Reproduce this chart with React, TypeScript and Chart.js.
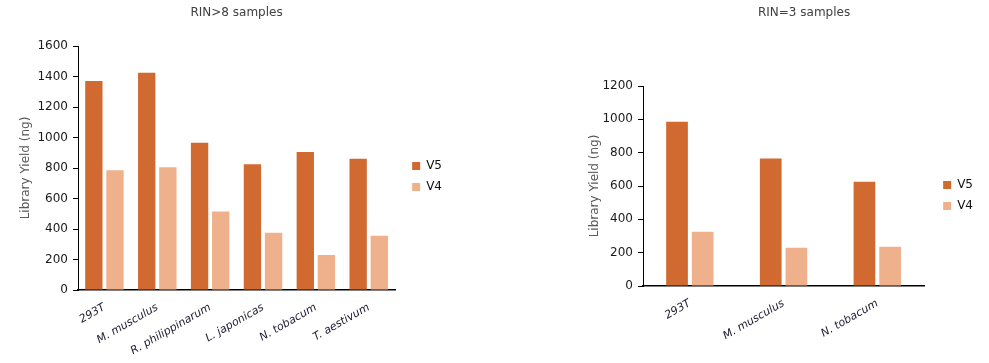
import React, { useEffect, useRef } from "react";
import { Chart, registerables } from "chart.js";

Chart.register(...registerables);

const FONT = "'DejaVu Sans', sans-serif";
const V5_COLOR = "#D06A30";
const V4_COLOR = "#EFB08C";

const seriesNames = ["V5", "V4"];

const categoriesRin8 = ["293T", "M. musculus", "R. philippinarum", "L. japonicas", "N. tobacum", "T. aestivum"];
const v5Rin8 = [1370, 1425, 965, 825, 905, 860];
const v4Rin8 = [785, 805, 515, 375, 230, 355];

const categoriesRin3 = ["293T", "M. musculus", "N. tobacum"];
const v5Rin3 = [985, 765, 625];
const v4Rin3 = [325, 230, 235];

type PanelCfg = {
  title: string;
  labels: string[];
  v5: number[];
  v4: number[];
  yMax: number;
  width: number;
  left: number;
  yAxisWidth: number;
  xAxisHeight: number;
  titleBottom: number;
  padRight: number;
  catPct: number;
  barPct: number;
  yTitlePad: number;
  titleDx: number;
  legendDx: number;
  legendDy: number;
};

function makeShift(titleDx: number, legendDx: number, legendDy: number) {
  return {
    id: "shiftBoxes",
    afterLayout(chart: any) {
      const t = chart.titleBlock;
      if (t) {
        t.left += titleDx;
        t.right += titleDx;
      }
      const l = chart.legend;
      if (l) {
        l.left += legendDx;
        l.right += legendDx;
        l.top += legendDy;
        l.bottom += legendDy;
      }
    },
  };
}

function Panel({ cfg }: { cfg: PanelCfg }) {
  const ref = useRef<HTMLCanvasElement | null>(null);
  useEffect(() => {
    if (!ref.current) return;
    const chart = new Chart(ref.current, {
      type: "bar",
      data: {
        labels: cfg.labels,
        datasets: [
          {
            label: seriesNames[0],
            data: cfg.v5,
            backgroundColor: V5_COLOR,
            categoryPercentage: cfg.catPct,
            barPercentage: cfg.barPct,
          },
          {
            label: seriesNames[1],
            data: cfg.v4,
            backgroundColor: V4_COLOR,
            categoryPercentage: cfg.catPct,
            barPercentage: cfg.barPct,
          },
        ],
      },
      plugins: [makeShift(cfg.titleDx, cfg.legendDx, cfg.legendDy)],
      options: {
        animation: false,
        responsive: false,
        maintainAspectRatio: false,
        layout: { padding: { left: 0, top: 0, bottom: 0, right: cfg.padRight } },
        plugins: {
          title: {
            display: true,
            text: cfg.title,
            fullSize: false,
            color: "#404040",
            font: { family: FONT, size: 12, weight: "normal" },
            padding: { top: 6, bottom: cfg.titleBottom },
          },
          legend: {
            display: true,
            position: "right",
            labels: {
              boxWidth: 8,
              boxHeight: 8,
              padding: 9,
              color: "#111111",
              font: { family: FONT, size: 12 },
            },
          },
          tooltip: { enabled: false },
        },
        scales: {
          x: {
            grid: { display: false },
            border: { display: true, color: "#000000", width: 1.5 },
            ticks: {
              autoSkip: false,
              minRotation: 30,
              maxRotation: 30,
              padding: 3,
              color: "#1c1c30",
              font: { family: FONT, size: 11, style: "italic" },
            },
            afterFit: (s: any) => {
              s.height = cfg.xAxisHeight;
            },
          },
          y: {
            min: 0,
            max: cfg.yMax,
            ticks: {
              stepSize: 200,
              padding: 5,
              color: "#1a1a1a",
              font: { family: FONT, size: 12 },
              callback: (v: any) => String(v),
            },
            grid: {
              display: true,
              drawOnChartArea: false,
              drawTicks: true,
              tickLength: 5,
              tickColor: "#000000",
              tickWidth: 1,
            },
            border: { display: true, color: "#000000", width: 1 },
            title: {
              display: true,
              text: "Library Yield (ng)",
              color: "#595959",
              font: { family: FONT, size: 12 },
              padding: { top: cfg.yTitlePad, bottom: 0 },
            },
            afterFit: (s: any) => {
              s.width = cfg.yAxisWidth;
            },
          },
        },
      } as any,
    });
    return () => chart.destroy();
  }, [cfg]);
  return (
    <canvas
      ref={ref}
      width={cfg.width}
      height={363}
      style={{ position: "absolute", left: cfg.left, top: 0, width: cfg.width, height: 363 }}
    />
  );
}

const leftCfg: PanelCfg = {
  title: "RIN>8 samples",
  labels: categoriesRin8,
  v5: v5Rin8,
  v4: v4Rin8,
  yMax: 1600,
  width: 480,
  left: 0,
  yAxisWidth: 78,
  xAxisHeight: 73,
  titleBottom: 25.6,
  padRight: 36,
  catPct: 0.8,
  barPct: 0.82,
  yTitlePad: 19,
  titleDx: 0,
  legendDx: 8,
  legendDy: -5,
};

const rightCfg: PanelCfg = {
  title: "RIN=3 samples",
  labels: categoriesRin3,
  v5: v5Rin3,
  v4: v4Rin3,
  yMax: 1200,
  width: 429,
  left: 560,
  yAxisWidth: 83,
  xAxisHeight: 77,
  titleBottom: 65.6,
  padRight: 16,
  catPct: 0.548,
  barPct: 0.845,
  yTitlePad: 28,
  titleDx: 20.5,
  legendDx: 10,
  legendDy: 14,
};

export default function App() {
  return (
    <div style={{ position: "absolute", left: 0, top: 0, width: 989, height: 363, overflow: "hidden", background: "#ffffff" }}>
      <Panel cfg={leftCfg} />
      <Panel cfg={rightCfg} />
    </div>
  );
}
